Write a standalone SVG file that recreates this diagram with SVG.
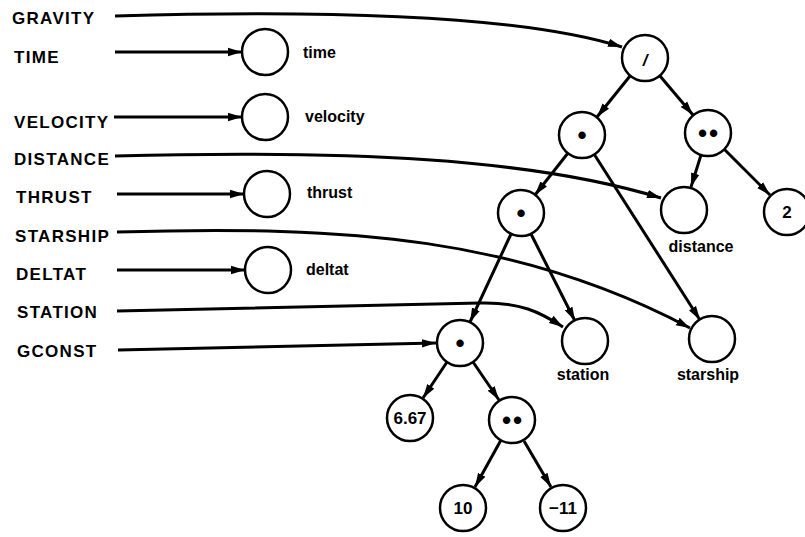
<svg xmlns="http://www.w3.org/2000/svg" width="805" height="537" viewBox="0 0 805 537">
<style>
.lab{font-family:"Liberation Sans",Arial,sans-serif;font-weight:bold;font-size:17px;letter-spacing:1.3px;fill:#000}
.sm{font-family:"Liberation Sans",Arial,sans-serif;font-weight:bold;font-size:16px;fill:#000}
.nt{font-family:"Liberation Sans",Arial,sans-serif;font-weight:bold;font-size:17px;fill:#000;text-anchor:middle}
.dot{font-family:"Liberation Sans",Arial,sans-serif;font-weight:bold;font-size:26px;fill:#000;text-anchor:middle}
.c{fill:#fff;stroke:#000;stroke-width:2.5}
.e{fill:none;stroke:#000;stroke-width:3;marker-end:url(#ah)}
</style>
<defs>
<marker id="ah" markerUnits="userSpaceOnUse" markerWidth="16" markerHeight="10" refX="14" refY="5" orient="auto">
<path d="M0,0.8 L14,5 L0,9.2 Z" fill="#000"/>
</marker>
</defs>
<g id="labels">
<text class="lab" x="12" y="24">GRAVITY</text>
<text class="lab" x="14" y="63">TIME</text>
<text class="lab" x="14" y="128">VELOCITY</text>
<text class="lab" x="14" y="165">DISTANCE</text>
<text class="lab" x="16" y="203">THRUST</text>
<text class="lab" x="15" y="242">STARSHIP</text>
<text class="lab" x="16" y="280">DELTAT</text>
<text class="lab" x="17" y="318">STATION</text>
<text class="lab" x="17" y="357">GCONST</text>
</g>
<g id="connectors">
<path class="e" d="M115,16 C350,9 530,18 622,47"/>
<path class="e" d="M115,52 L242,52"/>
<path class="e" d="M114,117 L242,117"/>
<path class="e" d="M115,156 C350,150 530,158 661,198"/>
<path class="e" d="M117,194 L244,194"/>
<path class="e" d="M117,232 C350,225 520,238 690,328"/>
<path class="e" d="M117,270 L245,270"/>
<path class="e" d="M117,311 L480,303 C520,302 540,312 563,327"/>
<path class="e" d="M118,350 L436,343"/>
<path class="e" d="M630,76 L597,117"/>
<path class="e" d="M660,76 L693,115"/>
<path class="e" d="M568,153 L535,195"/>
<path class="e" d="M594,154 L700,320"/>
<path class="e" d="M701,155 L691,187"/>
<path class="e" d="M724,149 L770,195"/>
<path class="e" d="M511,234 L470,322"/>
<path class="e" d="M531,234 L575,321"/>
<path class="e" d="M447,362 L423,398"/>
<path class="e" d="M473,362 L499,400"/>
<path class="e" d="M501,440 L475,487"/>
<path class="e" d="M524,441 L551,487"/>
</g>
<g id="n-time"><circle class="c" cx="265" cy="52" r="23"/><text class="sm" x="303" y="58">time</text></g>
<g id="n-velocity"><circle class="c" cx="265" cy="117" r="23"/><text class="sm" x="305" y="122">velocity</text></g>
<g id="n-thrust"><circle class="c" cx="267" cy="194" r="23"/><text class="sm" x="307" y="198">thrust</text></g>
<g id="n-deltat"><circle class="c" cx="268" cy="270" r="23"/><text class="sm" x="306" y="275">deltat</text></g>
<g id="n-div"><circle class="c" cx="645" cy="58" r="23"/><text class="nt" x="645" y="66" font-size="22" font-style="italic">/</text></g>
<g id="n-mul1"><circle class="c" cx="582" cy="135" r="23"/><text class="dot" x="582" y="144">•</text></g>
<g id="n-pow1"><circle class="c" cx="708" cy="133" r="23"/><text class="dot" x="709" y="142" letter-spacing="2">••</text></g>
<g id="n-mul2"><circle class="c" cx="521" cy="213" r="23"/><text class="dot" x="521" y="222">•</text></g>
<g id="n-distance"><circle class="c" cx="684" cy="210" r="23"/><text class="sm" x="701" y="252" text-anchor="middle">distance</text></g>
<g id="n-two"><circle class="c" cx="787" cy="212" r="23"/><text class="nt" x="787" y="218">2</text></g>
<g id="n-mul3"><circle class="c" cx="460" cy="343" r="23"/><text class="dot" x="460" y="352">•</text></g>
<g id="n-station"><circle class="c" cx="585" cy="341" r="23"/><text class="sm" x="583" y="380" text-anchor="middle">station</text></g>
<g id="n-starship"><circle class="c" cx="712" cy="339" r="23"/><text class="sm" x="708" y="380" text-anchor="middle">starship</text></g>
<g id="n-667"><circle class="c" cx="410" cy="418" r="23"/><text class="nt" x="410" y="424" font-size="16">6.67</text></g>
<g id="n-pow2"><circle class="c" cx="512" cy="420" r="23"/><text class="dot" x="513" y="429" letter-spacing="2">••</text></g>
<g id="n-10"><circle class="c" cx="463" cy="508" r="23"/><text class="nt" x="463" y="514">10</text></g>
<g id="n-m11"><circle class="c" cx="563" cy="508" r="23"/><text class="nt" x="563" y="514">−11</text></g>
</svg>
